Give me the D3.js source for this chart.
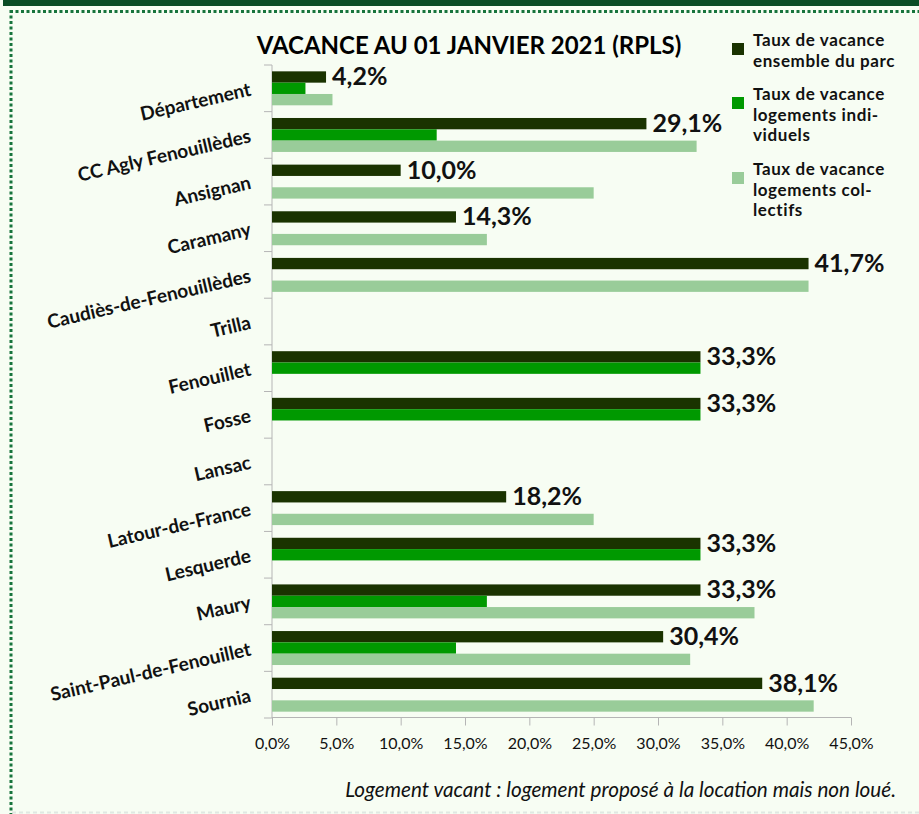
<!DOCTYPE html>
<html>
<head>
<meta charset="utf-8">
<script src="https://cdn.jsdelivr.net/npm/d3@7"></script>
<style>
  body { margin: 0; background: #f7fdf3; }
  svg { display: block; font-family: Lato, "Noto Sans", sans-serif; }
</style>
</head>
<body>
<div id="chart"></div>
<script>
const width = 919,
  height = 814;

// DATA (percent)
const categories = ["Département", "CC Agly Fenouillèdes", "Ansignan", "Caramany",
  "Caudiès-de-Fenouillèdes", "Trilla", "Fenouillet", "Fosse", "Lansac",
  "Latour-de-France", "Lesquerde", "Maury", "Saint-Paul-de-Fenouillet", "Sournia"];
const ensemble    = [4.2, 29.1, 10.0, 14.3, 41.7, null, 33.3, 33.3, null, 18.2, 33.3, 33.3, 30.4, 38.1];
const individuels = [2.6, 12.8, null, null, null, null, 33.3, 33.3, null, null, 33.3, 16.7, 14.3, null];
const collectifs  = [4.7, 33.0, 25.0, 16.7, 41.7, null, null, null, null, 25.0, null, 37.5, 32.5, 42.1];
const xTicks = [0, 5, 10, 15, 20, 25, 30, 35, 40, 45];

const seriesNames = ["ensemble", "individuels", "collectifs"];
const legendLabels = [
  ["Taux de vacance", "ensemble du parc"],
  ["Taux de vacance", "logements indi-", "viduels"],
  ["Taux de vacance", "logements col-", "lectifs"]
];
const colors = ["#1a3300", "#009900", "#99cc99"];

const fr = d3.formatLocale({ decimal: ",", thousands: " ", grouping: [3], currency: ["", "€"] });
const fmt = v => fr.format(".1f")(v) + "%";

const svg = d3.select("#chart").append("svg")
  .attr("width", width)
  .attr("height", height);

// frame
svg.append("rect").attr("x", 3).attr("y", 0).attr("width", width - 3).attr("height", 6).attr("fill", "#0b4d26");
svg.append("line").attr("x1", 10).attr("x2", width).attr("y1", 11.5).attr("y2", 11.5)
  .attr("stroke", "#17743c").attr("stroke-width", 3).attr("stroke-dasharray", "3,2.5");
svg.append("line").attr("x1", 11).attr("x2", 11).attr("y1", 10).attr("y2", height)
  .attr("stroke", "#17743c").attr("stroke-width", 3).attr("stroke-dasharray", "3,2.5");
svg.append("line").attr("x1", 12).attr("x2", width).attr("y1", 812.5).attr("y2", 812.5)
  .attr("stroke", "#dfe8e2").attr("stroke-width", 2).attr("stroke-dasharray", "4,3");

// SCALES
const x = d3.scaleLinear().domain([0, 45]).range([272, 851]);
const y = d3.scaleBand().domain(categories).range([65, 718]).padding(0);
const ySub = d3.scaleBand().domain(seriesNames).range([0, y.bandwidth()]).paddingInner(0).paddingOuter(0.56);

const rows = categories.map((c, i) => ({
  cat: c,
  vals: [ensemble[i], individuels[i], collectifs[i]]
}));

// title
svg.append("text")
  .attr("x", 469).attr("y", 54)
  .attr("text-anchor", "middle")
  .attr("font-size", 24).attr("font-weight", "bold")
  .attr("fill", "#000")
  .text("VACANCE AU 01 JANVIER 2021 (RPLS)");

// x axis
const xAxis = svg.append("g")
  .attr("transform", "translate(0,717.5)")
  .call(d3.axisBottom(x).tickValues(xTicks).tickSize(8).tickPadding(12)
    .tickFormat(d => fr.format(".1f")(d) + "%"));
xAxis.select(".domain").attr("stroke", "#b5b5b5").attr("d", "M272,0H851");
xAxis.selectAll(".tick line").attr("stroke", "#b5b5b5");
xAxis.selectAll(".tick text").attr("font-size", 16).attr("fill", "#111").attr("font-family", "Lato, sans-serif");

// y axis line and ticks at band edges
svg.append("line").attr("x1", 272).attr("x2", 272).attr("y1", 65).attr("y2", 718)
  .attr("stroke", "#b5b5b5");
svg.append("g").selectAll("line")
  .data(categories.concat([null]))
  .join("line")
  .attr("x1", 264).attr("x2", 272)
  .attr("y1", d => d === null ? y.range()[1] : y(d))
  .attr("y2", d => d === null ? y.range()[1] : y(d))
  .attr("stroke", "#b5b5b5");

// category labels
svg.append("g").selectAll("text")
  .data(categories)
  .join("text")
  .attr("transform", d => `translate(252,${y(d) + y.bandwidth() / 2 + 7}) rotate(-13)`)
  .attr("text-anchor", "end")
  .attr("font-size", 19).attr("font-weight", "bold")
  .attr("fill", "#111")
  .text(d => d);

// bars
const groups = svg.append("g").selectAll("g")
  .data(rows)
  .join("g")
  .attr("transform", d => `translate(0,${y(d.cat)})`);

groups.selectAll("rect")
  .data(d => d.vals.map((v, j) => ({ v, s: seriesNames[j], j })).filter(e => e.v !== null))
  .join("rect")
  .attr("x", x(0))
  .attr("y", d => ySub(d.s))
  .attr("width", d => x(d.v) - x(0))
  .attr("height", ySub.bandwidth())
  .attr("fill", d => colors[d.j]);

// value labels (ensemble only)
groups.filter(d => d.vals[0] !== null)
  .append("text")
  .attr("x", d => x(d.vals[0]) + 6)
  .attr("y", ySub("ensemble") + ySub.bandwidth() / 2)
  .attr("dy", "0.33em")
  .attr("font-size", 25).attr("font-weight", "bold")
  .attr("fill", "#111")
  .text(d => fmt(d.vals[0]));

// legend
const legendTop = [43, 97, 172];
const legend = svg.append("g").selectAll("g")
  .data(legendLabels)
  .join("g")
  .attr("transform", (d, i) => `translate(732,${legendTop[i]})`);
legend.append("rect")
  .attr("width", 12).attr("height", 12)
  .attr("fill", (d, i) => colors[i]);
legend.append("text")
  .attr("font-size", 17).attr("font-weight", "bold").attr("fill", "#111")
  .attr("letter-spacing", 0.6)
  .selectAll("tspan")
  .data(d => d)
  .join("tspan")
  .attr("x", 21)
  .attr("y", (d, i) => 3 + i * 20.5)
  .text(d => d);

// footnote
svg.append("text")
  .attr("x", 896).attr("y", 797)
  .attr("text-anchor", "end")
  .attr("font-size", 20.7).attr("font-style", "italic")
  .attr("fill", "#111")
  .text("Logement vacant : logement proposé à la location mais non loué.");
</script>
</body>
</html>
